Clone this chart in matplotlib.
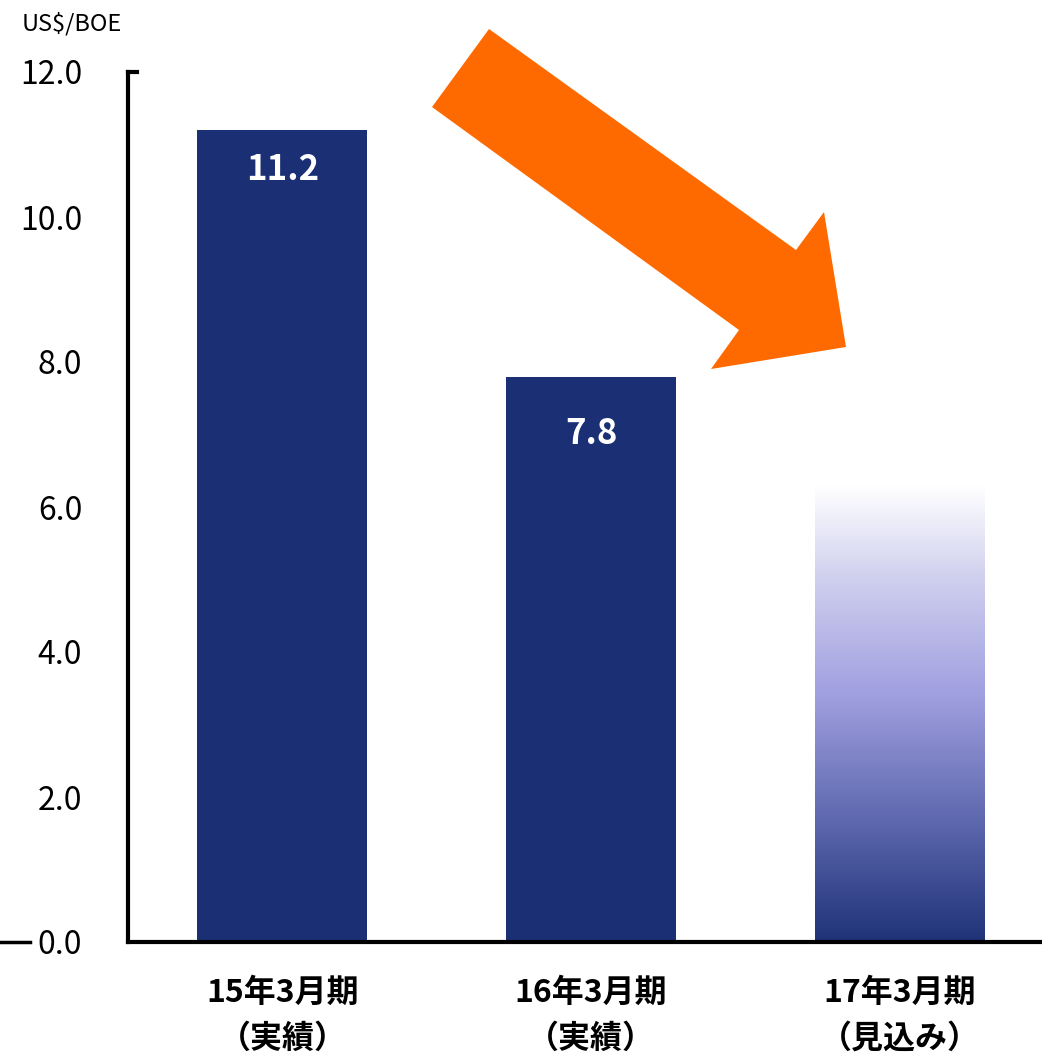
import matplotlib.pyplot as plt
import matplotlib.patches as mpatches
import matplotlib.lines as mlines
from matplotlib.colors import LinearSegmentedColormap
import numpy as np

plt.rcParams['font.family'] = ['Noto Sans CJK JP', 'DejaVu Sans']

# dati
categorie = ['15年3月期\n（実績）', '16年3月期\n（実績）', '17年3月期\n（見込み）']
valori = [11.2, 7.8, 6.3]
etichette = ['11.2', '7.8', '']
y_ticks = [0, 2, 4, 6, 8, 10, 12]

W, H = 1042, 1057
fig = plt.figure(figsize=(W / 100, H / 100), dpi=100)
ax = fig.add_axes([128 / W, 1 - 942 / H, 1 - 128 / W, (942 - 72) / H])

blu = '#1b2f75'
larg = 0.55
x = np.arange(len(categorie))

# barre piene (le prime due)
ax.bar(x[:2], valori[:2], width=larg, color=blu, zorder=2)

# terza barra sfumata
cmap = LinearSegmentedColormap.from_list('sfum', [(0.0, '#1f3278'), (0.25, '#5a65ab'),
                                                  (0.54, '#a09fe0'), (0.8, '#d0d0ef'),
                                                  (1.0, '#ffffff')])
grad = np.linspace(0, 1, 256).reshape(-1, 1)
ax.imshow(grad, extent=[x[2] - larg / 2, x[2] + larg / 2, 0, valori[2]], origin='lower',
          aspect='auto', cmap=cmap, zorder=2)

for xi, v, t in zip(x, valori, etichette):
    if t:
        off = 0.55 if v > 10 else 0.78
        ax.text(xi, v - off, t, ha='center', va='center', color='white',
                fontsize=25, fontweight='bold')

ax.set_xlim(-0.5, 2.46)
ax.set_ylim(0, 12)
ax.set_yticks(y_ticks)
ax.set_yticklabels([f'{t:.1f}' for t in y_ticks], fontsize=23)
ax.tick_params(axis='y', length=0, pad=33)
ax.set_xticks(x)
ax.set_xticklabels(categorie, fontsize=23, fontweight='bold', linespacing=1.55)
ax.tick_params(axis='x', length=0, pad=25)

for s in ['top', 'right']:
    ax.spines[s].set_visible(False)
ax.spines['left'].set_linewidth(3)
ax.spines['bottom'].set_linewidth(3)

# tacca in cima all'asse y
ax.add_artist(mlines.Line2D([0, 9 / 914], [1, 1], transform=ax.transAxes, color='black',
                            lw=3, clip_on=False, solid_capstyle='projecting'))

# trattino davanti a 0.0
fig.add_artist(mlines.Line2D([0, 30 / W], [1 - 942 / H, 1 - 942 / H], color='black', lw=2.5))

fig.text(22 / W, 1 - 24 / H, 'US$/BOE', fontsize=17, va='center', ha='left')

# freccia arancione
freccia = [(432, 107), (489, 29), (796, 250), (824, 212), (846, 347), (711, 369), (739, 330)]
poly = mpatches.Polygon([(px / W, 1 - py / H) for px, py in freccia], closed=True,
                        facecolor='#ff6a00', edgecolor='none', transform=fig.transFigure)
fig.add_artist(poly)

fig.savefig('out.png', dpi=100)
